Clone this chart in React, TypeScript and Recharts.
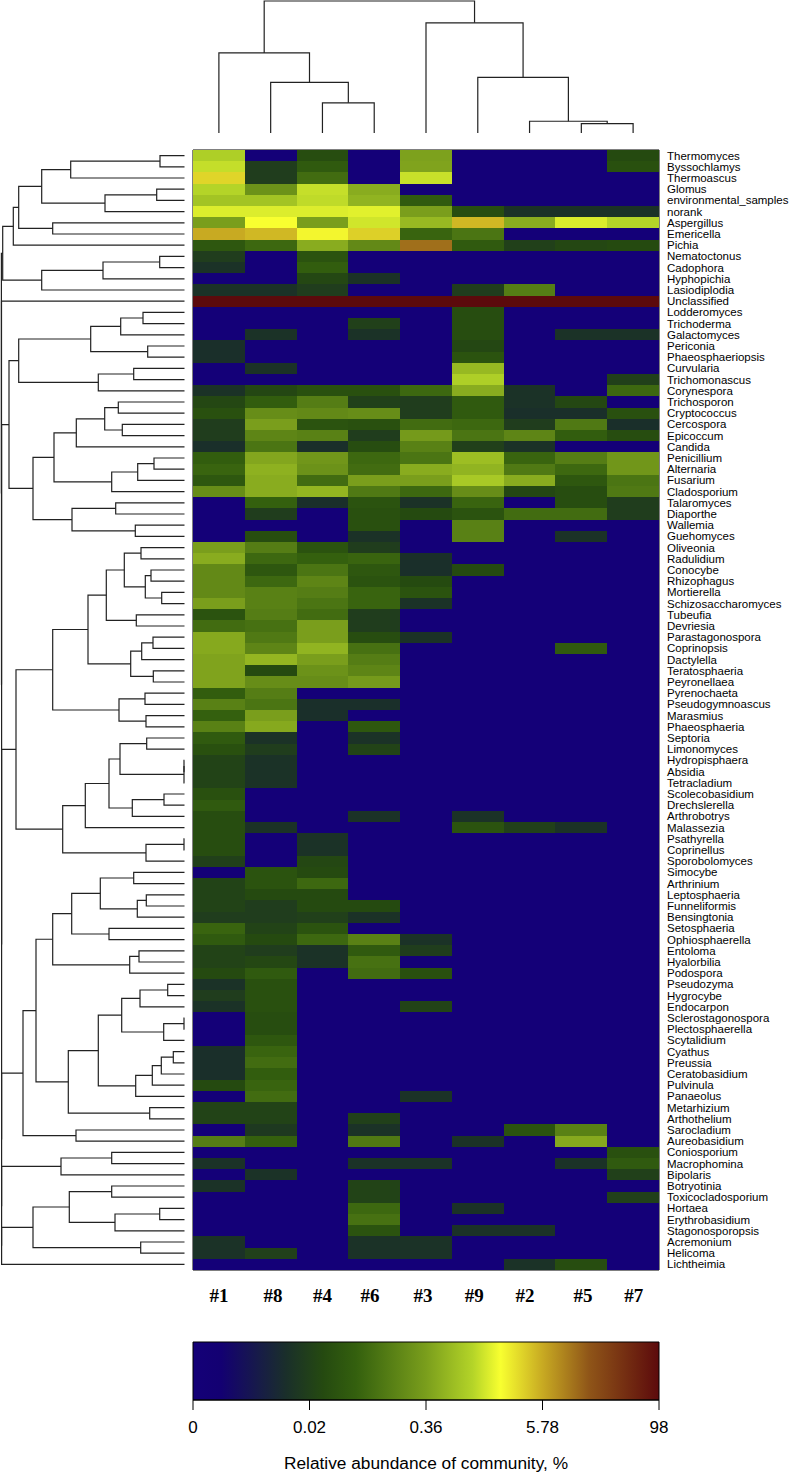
import React from 'react';
import { ScatterChart, Scatter, XAxis, YAxis, ReferenceArea } from 'recharts';

const sampleLabels = ['#1', '#8', '#4', '#6', '#3', '#9', '#2', '#5', '#7'];
const sampleTickPositions = [0.5, 1.545, 2.5, 3.42, 4.44, 5.43, 6.41, 7.53, 8.51];

const genusLabels = ['Thermomyces','Byssochlamys','Thermoascus','Glomus','environmental_samples','norank','Aspergillus','Emericella','Pichia','Nematoctonus','Cadophora','Hyphopichia','Lasiodiplodia','Unclassified','Lodderomyces','Trichoderma','Galactomyces','Periconia','Phaeosphaeriopsis','Curvularia','Trichomonascus','Corynespora','Trichosporon','Cryptococcus','Cercospora','Epicoccum','Candida','Penicillium','Alternaria','Fusarium','Cladosporium','Talaromyces','Diaporthe','Wallemia','Guehomyces','Oliveonia','Radulidium','Conocybe','Rhizophagus','Mortierella','Schizosaccharomyces','Tubeufia','Devriesia','Parastagonospora','Coprinopsis','Dactylella','Teratosphaeria','Peyronellaea','Pyrenochaeta','Pseudogymnoascus','Marasmius','Phaeosphaeria','Septoria','Limonomyces','Hydropisphaera','Absidia','Tetracladium','Scolecobasidium','Drechslerella','Arthrobotrys','Malassezia','Psathyrella','Coprinellus','Sporobolomyces','Simocybe','Arthrinium','Leptosphaeria','Funneliformis','Bensingtonia','Setosphaeria','Ophiosphaerella','Entoloma','Hyalorbilia','Podospora','Pseudozyma','Hygrocybe','Endocarpon','Sclerostagonospora','Plectosphaerella','Scytalidium','Cyathus','Preussia','Ceratobasidium','Pulvinula','Panaeolus','Metarhizium','Arthothelium','Sarocladium','Aureobasidium','Coniosporium','Macrophomina','Bipolaris','Botryotinia','Toxicocladosporium','Hortaea','Erythrobasidium','Stagonosporopsis','Acremonium','Helicoma','Lichtheimia'];

// Each value is the cell's position on the colour key, 0 to 100 (25 = 0.02 %, 50 = 0.36 %, 75 = 5.78 %, 100 = 98 %).
const keyLevels: number[][] = [
[59,0,29,0,50.5,0,0,0,28],[61.4,24,33,0,51,0,0,0,30],[70.5,24,38,0,61.8,0,0,0,0],[60,47,61.5,52.5,0,0,0,0,0],[57,57,61,54,33,0,0,0,0],
[63.5,63.5,63.5,64,50,29,21,21,21],[50,66,50,62.5,55,73.5,52.5,63.3,60],[75,73.5,67,71,36,40,0,0,0],[32,37,52.5,45,82,33,25,27,28],[24,0,31,0,0,0,0,0,0],
[21,0,34,0,0,0,0,0,0],[0,0,27,21,0,0,0,0,0],[21,21,24,0,0,24,42,0,0],[100,100,100,100,100,100,100,100,100],[0,0,0,0,0,29,0,0,0],
[0,0,0,25,0,29,0,0,0],[0,21,0,21,0,29,0,21,21],[20,0,0,0,0,27,0,0,0],[20,0,0,0,0,31,0,0,0],[0,21,0,0,0,55,0,0,0],
[0,0,0,0,0,59,0,0,25],[21,27,30,30,37,52.5,21,0,37],[27,34,42,25,24,33,21,27,0],[30,46,45,46,24,33,20,20,30],[24,50,31,30,38,37,24,41,20],
[24,44,43,24,49,40,44,34,29],[20,40,20,29,43,25,21,0,0],[34,51.5,48,37,40,56,36,42,48],[36,53.5,47,38,52.5,54,41,37,48],[32,52.5,38,50,50,58,52.5,32,40],
[46,52.5,54.5,41,37,46,27,29,41],[0,35,20,31,21,36,0,29,24],[0,24,0,30,28,31,38,38,24],[0,0,0,30,0,43,0,0,0],[0,29,0,21,0,43,0,21,0],
[50,42,31,24,0,0,0,0,0],[52.5,37,35,36,20,0,0,0,0],[45,32,40,32,20,28,0,0,0],[45,37,44,31,28,0,0,0,0],[45,43,42,36,31,0,0,0,0],
[50,43,40,36,21,0,0,0,0],[31,42,38,24,0,0,0,0,0],[38,39,50,24,0,0,0,0,0],[52,41,50,29,21,0,0,0,0],[52,44,54,39,0,0,0,33,0],
[51,54.5,50,42,0,0,0,0,0],[51,28,47,44,0,0,0,0,0],[51,46,46,49,0,0,0,0,0],[34,42,0,0,0,0,0,0,0],[43,40,20,20,0,0,0,0,0],
[35,50,20,0,0,0,0,0,0],[43,52,0,32,0,0,0,0,0],[33,21,0,21,0,0,0,0,0],[30,24,0,26,0,0,0,0,0],[26,21,0,0,0,0,0,0,0],
[26,21,0,0,0,0,0,0,0],[26,21,0,0,0,0,0,0,0],[30,0,0,0,0,0,0,0,0],[33,0,0,0,0,0,0,0,0],[29,0,0,21,0,21,0,0,0],
[29,21,0,0,0,31,25,21,0],[29,0,21,0,0,0,0,0,0],[29,0,21,0,0,0,0,0,0],[25,0,27,0,0,0,0,0,0],[0,31,28,0,0,0,0,0,0],
[26,31,37,0,0,0,0,0,0],[26,28,28,0,0,0,0,0,0],[26,24,28,28,0,0,0,0,0],[24,24,25,21,0,0,0,0,0],[36,26,31,0,0,0,0,0,0],
[33,28,37,43,21,0,0,0,0],[26,24,21,33,24,0,0,0,0],[26,27,21,39,0,0,0,0,0],[28,33,0,38,30,0,0,0,0],[21,30,0,0,0,0,0,0,0],
[24,30,0,0,0,0,0,0,0],[21,30,0,0,26,0,0,0,0],[0,29,0,0,0,0,0,0,0],[0,29,0,0,0,0,0,0,0],[0,32,0,0,0,0,0,0,0],
[20,36,0,0,0,0,0,0,0],[20,38,0,0,0,0,0,0,0],[20,34,0,0,0,0,0,0,0],[28,36,0,0,0,0,0,0,0],[0,38,0,0,21,0,0,0,0],
[26,26,0,0,0,0,0,0,0],[26,26,0,25,0,0,0,0,0],[0,23,0,21,0,0,31,43,0],[42,35,0,41,0,21,0,52,0],[0,0,0,0,0,0,0,0,30],
[21,0,0,21,21,0,0,21,33],[0,21,0,0,0,0,0,0,25],[21,0,0,26,0,0,0,0,0],[0,0,0,26,0,0,0,0,25],[0,0,0,37,0,21,0,0,0],
[0,0,0,39,0,0,0,0,0],[0,0,0,31,0,21,21,0,0],[21,0,0,21,21,0,0,0,0],[21,25,0,21,21,0,0,0,0],[0,0,0,0,0,0,21,29,0],
];

const keyStops = [0, 6, 20, 28, 35, 50, 60, 66, 75, 85, 100];
const keyColors = ['#140078', '#130072', '#1a2f2a', '#254a10', '#34600e', '#7a9e1c', '#b4d428', '#f8ff30', '#c8aa22', '#8f5518', '#5c0a0c'];
const keyTicks = [0, 25, 50, 75, 100];
const keyTickLabels = ['0', '0.02', '0.36', '5.78', '98'];

// Dendrograms: [merge position, left child, right child]; a bare number is a row or column (1-based).
type Tree = number | [number, Tree, Tree];
const colTree: Tree = [131.4, [79.7, 1, [50.4, 2, [30, 3, 4]]], [109.7, 5, [55.4, 6, [11.7, 7, [9.4, 8, 9]]]]];
const cladeA: Tree = [2.7, [13.3, [18.7, [41.7, [70.7, [160, 1, 2], 3], [105, [156.7, 4, 5], 6]], [52.7, 7, 8]], 9], [41.7, [103, [159.7, 10, 11], 12], 13]];
const cladeC: Tree = [9, [18.7, [90.7, [120.7, [143, 15, 16], 17], [147.7, 18, 19]], [98.3, [133.7, 20, 21], 22]], [33, [54, [76.3, [104.7, [118.3, 23, 24], [122.3, 25, 26]], 27], [111.7, [137.7, [154, 28, 29], 30], 31]], [72, [115.7, 32, 33], [135.3, 34, 35]]]];
const cladeD: Tree = [16, [52.7, [88, [106.3, [124.3, [141, 36, 37], [145.3, [151, 38, 39], [161.7, 40, 41]]], [136.3, 42, 43]], [130.7, [141.7, [153, 44, 45], 46], [153.3, 47, 48]]], [119, [145, 49, 50], [146, 51, 52]]], [62.7, [85.3, [109, [120, [146.7, 53, 54], [184, [184, 55, 56], 57]], [132.3, [164, 58, 59], 60]], 61], [146, [184, 62, 63], 64]]];
const cladeE: Tree = [23, [36, [52.7, [71.7, [100.3, [133.7, 65, 66], [137.3, [146.3, 67, 68], 69]], [109, 70, 71]], [129.7, [139, 72, 73], 74]], [68.3, [98.3, [121.7, [140, [167.7, 75, 76], 77], [163.7, [184, 78, 79], 80]], [135.7, [152.3, [161.3, [173.3, 81, 82], 83], 84], 85]], [149.7, 86, 87]]], [76, 88, 89]];
const cladeF: Tree = [61, [111.7, 90, 91], 92];
const cladeG: Tree = [33, [69.3, [111.7, 93, 94], [115, [159.7, 95, 96], 97]], [140.7, 98, 99]];
const rowTree: Tree = [1.4, cladeA, [1.5, 14, [1.6, cladeC, [1.6, cladeD, [1.6, cladeE, [1.6, cladeF, [1.6, cladeG, 100]]]]]]];

const ROW_LEAF = 184.5;
const INK = '#222222';
const SANS = '"Liberation Sans", Arial, sans-serif';
const SERIF = '"Liberation Serif", "Times New Roman", serif';

const HEAT_W = 466;
const HEAT_H = 1120;
const CELL_W = HEAT_W / sampleLabels.length;
const CELL_H = HEAT_H / genusLabels.length;

function colourOf(level: number): string {
  let i = 0;
  while (i < keyStops.length - 2 && level > keyStops[i + 1]) i++;
  const t = (level - keyStops[i]) / (keyStops[i + 1] - keyStops[i]);
  const rgb = (hex: string) => [1, 3, 5].map((p) => parseInt(hex.slice(p, p + 2), 16));
  const a = rgb(keyColors[i]);
  const b = rgb(keyColors[i + 1]);
  return `rgb(${a.map((v, k) => Math.round(v + (b[k] - v) * t)).join(',')})`;
}

const cells = keyLevels.flatMap((row, r) => row.map((level, c) => ({ col: c + 0.5, row: r + 0.5, level })));
const keyAnchors = keyTicks.map((x) => ({ x, y: 0 }));

type Link = { pos: number; height: number }[];
function links(tree: Tree, leafHeight: number, out: Link[] = []): { pos: number; height: number } {
  if (typeof tree === 'number') return { pos: tree - 0.5, height: leafHeight };
  const [h, l, r] = tree;
  const a = links(l, leafHeight, out);
  const b = links(r, leafHeight, out);
  out.push([
    { pos: a.pos, height: a.height },
    { pos: a.pos, height: h },
    { pos: b.pos, height: h },
    { pos: b.pos, height: b.height },
  ]);
  return { pos: (a.pos + b.pos) / 2, height: h };
}
const colLinks: Link[] = [];
links(colTree, 0, colLinks);
const rowLinks: Link[] = [];
links(rowTree, ROW_LEAF, rowLinks);

const NoMark = () => <g />;
const HeatCell = (p: any) => (
  <rect
    x={p.cx - CELL_W / 2}
    y={p.cy - CELL_H / 2}
    width={CELL_W}
    height={CELL_H}
    fill={colourOf(p.payload.level)}
    shapeRendering="crispEdges"
  />
);

const abs = (left: number, top: number): React.CSSProperties => ({ position: 'absolute', left, top });

export default function App() {
  return (
    <div style={{ position: 'absolute', left: 0, top: 0, width: 790, height: 1476, background: '#fff', overflow: 'hidden' }}>
      {/* column dendrogram */}
      <div style={abs(193, 0)}>
        <ScatterChart width={466} height={134} margin={{ top: 1, right: 0, bottom: 1, left: 0 }}>
          <XAxis type="number" dataKey="pos" domain={[0, 9]} hide />
          <YAxis type="number" dataKey="height" domain={[0, 131.4]} hide />
          {colLinks.map((d, i) => (
            <Scatter key={i} data={d} line={{ stroke: INK, strokeWidth: 1.2 }} shape={NoMark} isAnimationActive={false} legendType="none" />
          ))}
        </ScatterChart>
      </div>

      {/* row dendrogram */}
      <div style={abs(0, 150)}>
        <ScatterChart width={185} height={1120} margin={{ top: 0, right: 0, bottom: 0, left: 0 }}>
          <XAxis type="number" dataKey="height" domain={[0, 185]} hide />
          <YAxis type="number" dataKey="pos" domain={[0, 100]} reversed hide />
          {rowLinks.map((d, i) => (
            <Scatter key={i} data={d} line={{ stroke: INK, strokeWidth: 1.2 }} shape={NoMark} isAnimationActive={false} legendType="none" />
          ))}
        </ScatterChart>
      </div>

      {/* heat map */}
      <div style={abs(188, 145)}>
        <ScatterChart width={602} height={1175} margin={{ top: 5, right: 0, bottom: 0, left: 5 }}>
          <XAxis
            type="number"
            dataKey="col"
            domain={[0, 9]}
            ticks={sampleTickPositions}
            interval={0}
            tickFormatter={(_: number, i: number) => sampleLabels[i]}
            axisLine={false}
            tickLine={false}
            tickSize={0}
            tickMargin={19}
            height={50}
            tick={{ fontFamily: SERIF, fontSize: 19, fontWeight: 700, fill: '#000' }}
          />
          <YAxis
            type="number"
            dataKey="row"
            orientation="right"
            domain={[0, 100]}
            reversed
            ticks={genusLabels.map((_, i) => i + 0.5)}
            interval={0}
            tickFormatter={(_: number, i: number) => genusLabels[i]}
            axisLine={false}
            tickLine={false}
            tickSize={0}
            tickMargin={8}
            width={131}
            tick={{ fontFamily: SANS, fontSize: 11.5, fill: '#000' }}
          />
          <Scatter data={cells} shape={HeatCell} isAnimationActive={false} legendType="none" />
          <ReferenceArea x1={0} x2={9} y1={0} y2={100} fill="none" stroke="#000" strokeWidth={1} ifOverflow="visible" />
        </ScatterChart>
      </div>

      {/* colour key */}
      <div style={abs(180, 1337)}>
        <ScatterChart width={510} height={139} margin={{ top: 5, right: 31, bottom: 0, left: 13 }}>
          <defs>
            <linearGradient id="key" x1="0" y1="0" x2="1" y2="0">
              {keyStops.map((s, i) => (
                <stop key={s} offset={`${s}%`} stopColor={keyColors[i]} />
              ))}
            </linearGradient>
          </defs>
          <XAxis
            type="number"
            dataKey="x"
            domain={[0, 100]}
            ticks={keyTicks}
            interval={0}
            tickFormatter={(_: number, i: number) => keyTickLabels[i]}
            stroke="#000"
            tickSize={10}
            tickMargin={11}
            height={76}
            tick={{ fontFamily: SANS, fontSize: 17, fill: '#000' }}
            label={{ value: 'Relative abundance of community, %', position: 'insideBottom', offset: 7, fontFamily: SANS, fontSize: 17.3, fill: '#000' }}
          />
          <YAxis type="number" dataKey="y" domain={[0, 1]} hide />
          <Scatter data={keyAnchors} shape={NoMark} isAnimationActive={false} legendType="none" />
          <ReferenceArea x1={0} x2={100} y1={0} y2={1} fill="url(#key)" fillOpacity={1} stroke="#000" strokeWidth={1} ifOverflow="visible" />
        </ScatterChart>
      </div>
    </div>
  );
}
